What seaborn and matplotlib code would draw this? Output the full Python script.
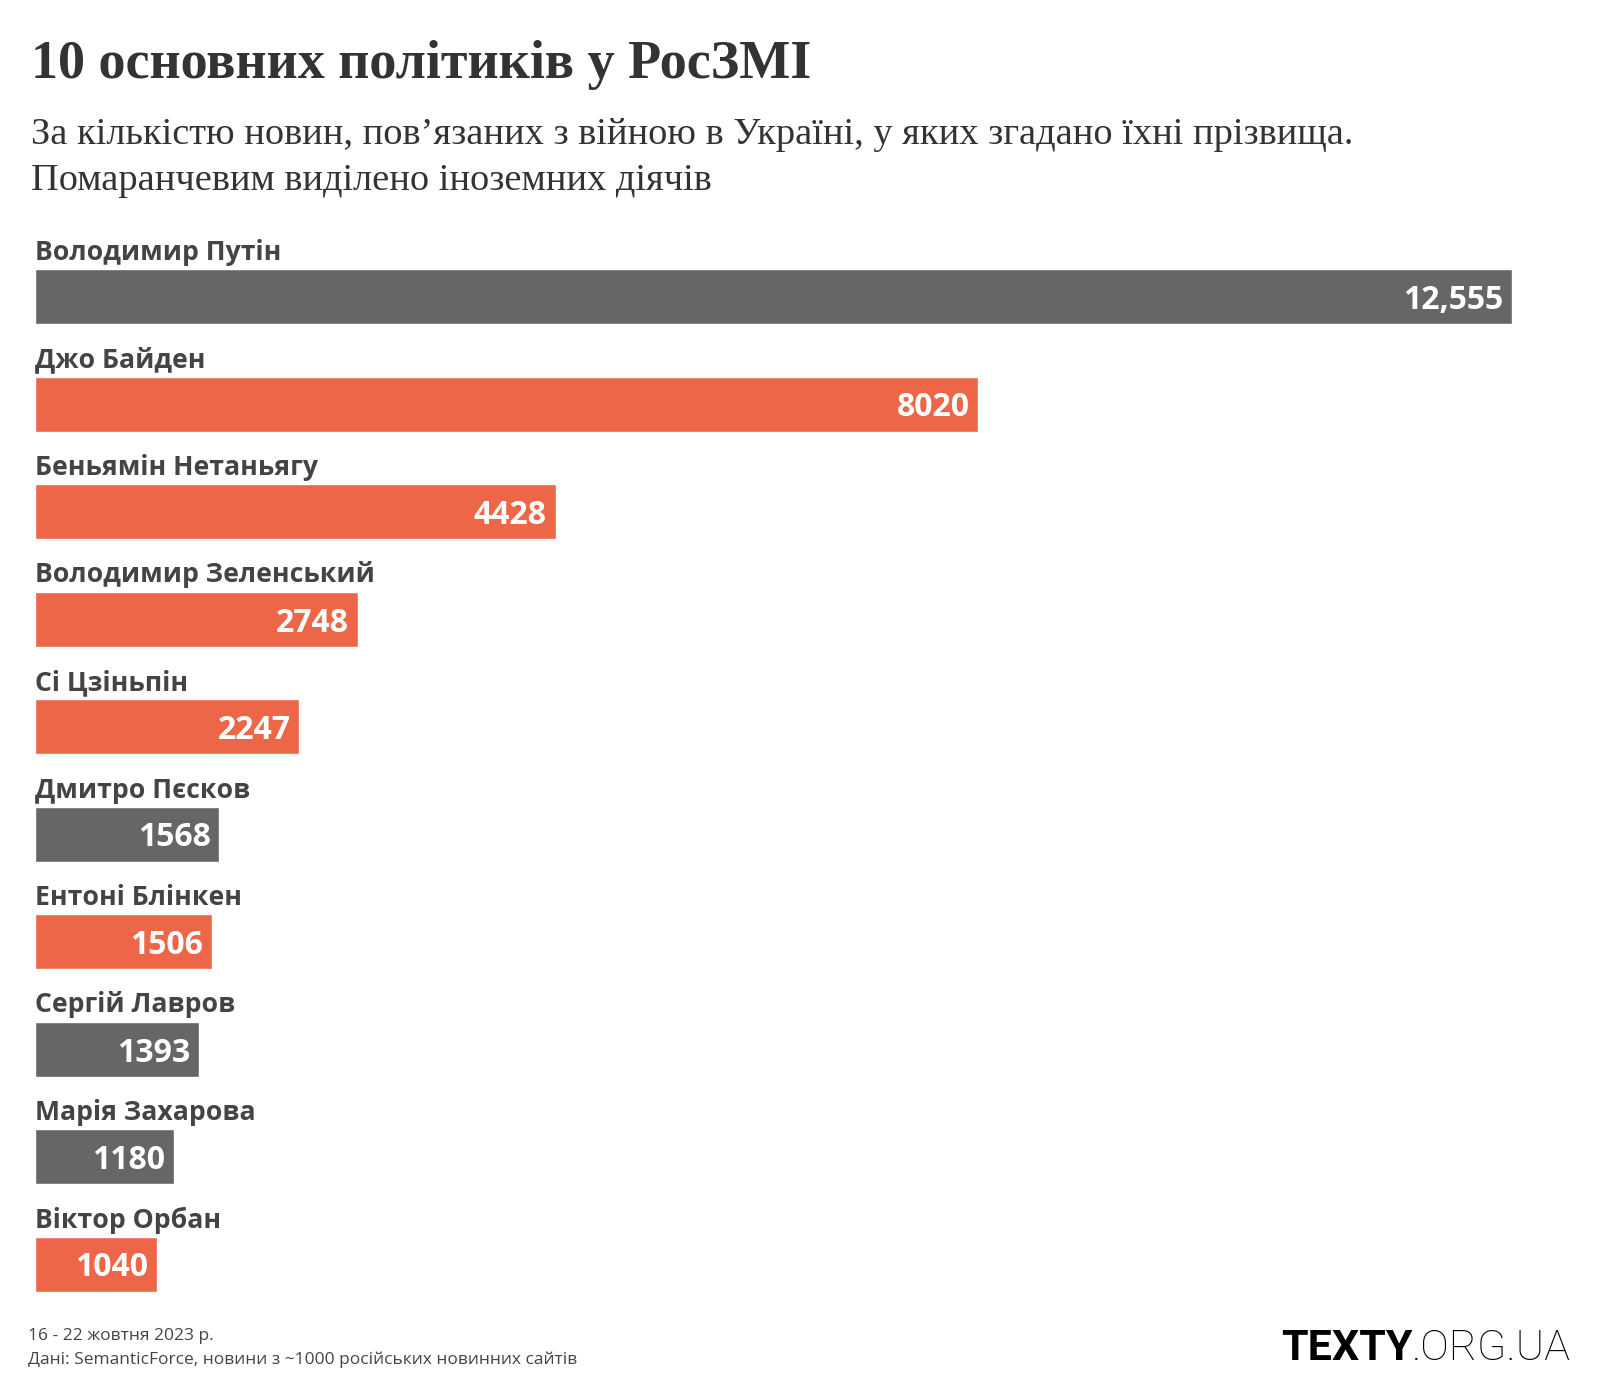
import matplotlib
matplotlib.use("Agg")
import matplotlib.pyplot as plt
import seaborn as sns
import pandas as pd

# data
names = ["Володимир Путін", "Джо Байден", "Беньямін Нетаньягу", "Володимир Зеленський",
         "Сі Цзіньпін", "Дмитро Пєсков", "Ентоні Блінкен", "Сергій Лавров",
         "Марія Захарова", "Віктор Орбан"]
values = [12555, 8020, 4428, 2748, 2247, 1568, 1506, 1393, 1180, 1040]
value_labels = ["12,555", "8020", "4428", "2748", "2247", "1568", "1506", "1393", "1180", "1040"]
foreign = [False, True, True, True, True, False, True, False, False, True]

GRAY = "#666666"
ORANGE = "#ED6648"

sns.set_theme(style="white")
plt.rcParams['font.family'] = ['Open Sans', 'DejaVu Sans']

df = pd.DataFrame({"name": names, "value": values,
                   "group": ["foreign" if f else "russian" for f in foreign]})

W, H = 1600, 1400
fig = plt.figure(figsize=(16, 14), dpi=100)

# axes placed so bars land where they are in the original
pitch = 107.5
first_center = 296.5
top_px = first_center - pitch / 2
bottom_px = first_center + 9 * pitch + pitch / 2
ax = fig.add_axes([35 / W, 1 - bottom_px / H, (1512 - 35) / W, (bottom_px - top_px) / H])

bar_h = 55 / pitch
sns.barplot(data=df, x="value", y="name", hue="group", dodge=False,
            palette={"foreign": ORANGE, "russian": GRAY}, width=bar_h,
            legend=False, ax=ax, saturation=1)
ax.set_xlim(0, values[0])
ax.set_ylim(len(names) - 0.5, -0.5)
ax.axis("off")

for i, (n, v, lab) in enumerate(zip(names, values, value_labels)):
    ax.text(0, i - bar_h / 2 - 9 / pitch, n, ha="left", va="baseline",
            fontsize=19.2, fontweight="bold", color="#444444")
    ax.text(v - 9 * values[0] / 1477, i, lab, ha="right", va="center_baseline",
            fontsize=23, fontweight="bold", color="white")

# titles
serif = ["Liberation Serif", "DejaVu Serif"]
fig.text(31 / W, 1 - 78 / H, "10 основних політиків у РосЗМІ",
         family=serif, fontweight="bold", fontsize=39, color="#333333",
         ha="left", va="baseline")
fig.text(31 / W, 1 - 144 / H, "За кількістю новин, пов\u02bcязаних з війною в Україні, у яких згадано їхні прізвища.",
         family=serif, fontsize=27.6, color="#333333", ha="left", va="baseline")
fig.text(31 / W, 1 - 190 / H, "Помаранчевим виділено іноземних діячів",
         family=serif, fontsize=27.6, color="#333333", ha="left", va="baseline")

# footer
fig.text(28 / W, 1 - 1340 / H, "16 - 22 жовтня 2023 р.", fontsize=12.5,
         color="#444444", ha="left", va="baseline")
fig.text(28 / W, 1 - 1364 / H, "Дані: SemanticForce, новини з ~1000 російських новинних сайтів",
         fontsize=12.5, color="#444444", ha="left", va="baseline")

# logo
logo_font = ["Roboto", "DejaVu Sans"]
tail = fig.text(1571 / W, 1 - 1360 / H, ".ORG.UA", family=logo_font,
                fontweight="light", fontsize=31, color="black", ha="right", va="baseline")
fig.canvas.draw()
bb = tail.get_window_extent()
fig.text(bb.x0 / W, 1 - 1360 / H, "TEXTY", family=logo_font,
         fontweight="bold", fontsize=31, color="black", ha="right", va="baseline")

fig.savefig("out.png", dpi=100, facecolor="white")
